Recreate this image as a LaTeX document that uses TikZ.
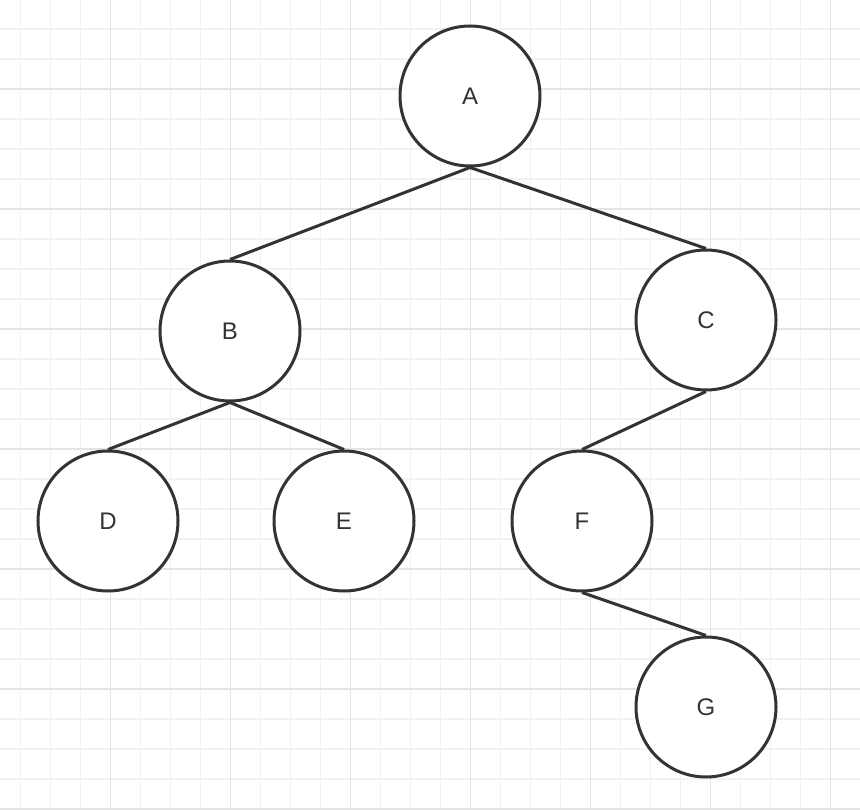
\documentclass[tikz,border=0pt]{standalone}
\usepackage{fontspec}
\setmainfont{Liberation Sans}
\usetikzlibrary{positioning}

\definecolor{inkgray}{HTML}{333333}
\definecolor{minorgrid}{HTML}{F2F2F2}
\definecolor{majorgrid}{HTML}{E4E4E4}

\tikzset{
  vertex/.style={circle, draw=inkgray, line width=3pt, fill=white,
    minimum size=140pt, inner sep=0pt, text=inkgray,
    font=\fontsize{24}{28}\selectfont},
  branch/.style={draw=inkgray, line width=3pt},
}

\begin{document}
\begin{tikzpicture}[x=1pt, y=-1pt, on grid]
\useasboundingbox (0,0) rectangle (860,810);
\fill[white] (0,0) rectangle (860,810);
% grid
\foreach \gx in {20.5,50.5,...,860} \draw[minorgrid, line width=1.3pt] (\gx,0) -- (\gx,810);
\foreach \gy in {29,59,...,810} \draw[minorgrid, line width=1.3pt] (0,\gy) -- (860,\gy);
\foreach \gx in {110.5,230.5,...,860} \draw[majorgrid, line width=1.3pt] (\gx,0) -- (\gx,810);
\foreach \gy in {89,209,...,810} \draw[majorgrid, line width=1.3pt] (0,\gy) -- (860,\gy);

\node[vertex] (A) at (470,96) {A};
\node[vertex] (B) [below left=235pt and 240pt of A] {B};
\node[vertex] (C) [below right=224pt and 236pt of A] {C};

\node[vertex] (D) [below left=190pt and 122pt of B] {D};
\node[vertex] (E) [below right=190pt and 114pt of B] {E};
\node[vertex] (F) [below left=201pt and 124pt of C] {F};

\node[vertex] (G) [below right=186pt and 124pt of F] {G};

\draw[branch] (A.south) -- (B.north);
\draw[branch] (A.south) -- (C.north);
\draw[branch] (B.south) -- (D.north);
\draw[branch] (B.south) -- (E.north);
\draw[branch] (C.south) -- (F.north);
\draw[branch] (F.south) -- (G.north);
\end{tikzpicture}
\end{document}
